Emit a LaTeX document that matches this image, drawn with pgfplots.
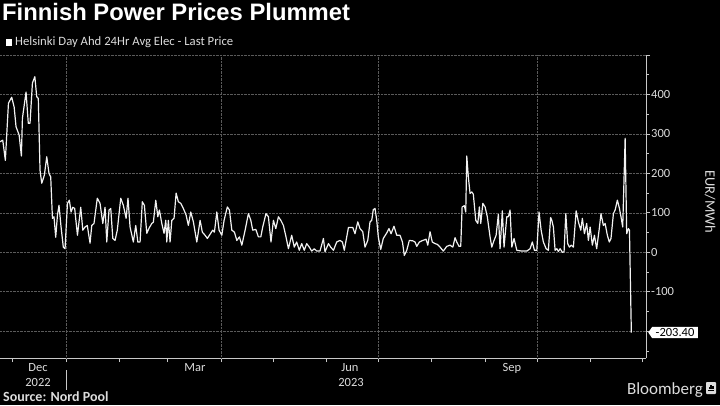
\documentclass[border=0pt]{standalone}
\usepackage{pgfplots}
\pgfplotsset{compat=1.18}
\usepackage{fontspec}
\setmainfont{Carlito}
\newfontfamily\titlefont{Liberation Sans}
\usetikzlibrary{shapes.symbols}

\definecolor{gridgray}{HTML}{5A5A5A}
\definecolor{axisgray}{HTML}{C8C8C8}
\definecolor{labelgray}{HTML}{DCDCDC}
\definecolor{linewhite}{HTML}{F2F2F2}

\begin{document}
\begin{tikzpicture}[x=1pt,y=1pt]
\fill[black] (0,0) rectangle (720,405);
\useasboundingbox (0,0) rectangle (720,405);

% title and legend
\node[anchor=base west, inner sep=0, text=white, font=\titlefont\bfseries\fontsize{23.8}{26}\selectfont] at (2,384) {Finnish Power Prices Plummet};
\fill[white] (6,359) rectangle (12,366);
\node[anchor=base west, inner sep=0, text=labelgray, font=\fontsize{12.7}{14}\selectfont] at (15,359.5) {Helsinki Day Ahd 24Hr Avg Elec - Last Price};

\begin{axis}[
  at={(0pt,350pt)}, anchor=north west,
  width=646pt, height=303pt, scale only axis,
  xmin=-38.3, xmax=336.2,
  ymin=-268, ymax=500,
  axis x line*=bottom, axis y line*=right,
  axis line style={draw=axisgray, line width=0.8pt},
  xtick={-31,0,31,59,90,120,151,181,212,243,273,304,334},
  xticklabels={},
  extra x ticks={0,90,181,273},
  extra x tick labels={},
  extra x tick style={grid=major, major tick length=0pt},
  ytick={-100,0,...,400},
  minor ytick={-250,-150,...,450},
  extra y ticks={-200,500},
  extra y tick labels={},
  extra y tick style={grid=major},
  ymajorgrids,
  grid style={densely dotted, gridgray, line width=0.6pt},
  tick align=outside,
  major tick length=4pt, minor tick length=3pt,
  tick style={axisgray, line width=0.7pt},
  /pgf/number format/assume math mode=true,
  yticklabel style={font=\fontsize{12.5}{14}\selectfont, text=labelgray, inner xsep=1pt},
  clip=false,
]
\addplot[linewhite, line width=1.2pt, line join=round] coordinates {
(-38.3,280)(-36.7,284)(-35.2,233)(-33.4,378)(-31.5,393)(-30.1,368)(-29.0,318)(-27.2,297)(-25.9,244)(-25.3,340)
(-23.2,406)(-21.9,327)(-20.9,327)(-19.5,429)(-18.1,445)(-17.0,394)(-16.1,390)(-15.1,208)(-14.1,175)(-12.6,195)
(-11.2,242)(-9.9,200)(-8.9,191)(-7.9,86)(-7.0,90)(-6.0,38)(-5.0,94)(-4.1,119)(-2.9,64)(-1.6,13)(-0.6,9)
(0.8,124)(1.9,132)(2.9,102)(3.9,114)(5.0,111)(6.6,43)(8.5,114)(9.7,56)(11.0,64)(12.3,68)(13.9,23)(14.9,68)
(16.2,73)(18.1,137)(19.7,124)
(21.3,73)(22.6,114)(23.6,26)(24.9,107)(25.9,111)(27.1,35)(28.4,30)(29.7,56)(31.7,137)(33.2,119)(34.8,86)
(35.9,137)(37.1,64)(39.0,26)(40.4,68)(41.6,26)(42.9,26)(44.2,128)(45.4,119)(46.8,48)(48.1,61)(49.7,73)
(50.6,76)(52.0,132)(53.2,90)(54.1,107)(55.5,73)(56.8,48)(57.8,81)(58.4,26)(59.3,81)(60.3,26)(61.3,81)
(62.6,86)(63.8,150)(65.1,128)(66.5,124)(68.0,111)(69.6,94)(70.9,68)(72.3,102)(73.8,77)(75.8,26)(77.7,81)
(79.0,51)(80.6,43)(81.9,35)(83.1,43)
(85.0,56)(86.0,51)(87.4,102)(88.7,56)(90.3,43)(91.6,81)(93.5,115)(94.7,107)(96.1,56)(97.6,51)(99.0,30)
(100.5,39)(101.9,18)(103.8,56)(105.7,98)(107.1,81)(108.2,56)(110.0,58)(111.5,39)(112.9,39)(114.0,64)
(115.9,98)(117.3,90)(118.8,26)(120.2,81)(121.6,60)(123.1,90)(124.5,81)(126.0,68)(127.5,39)(128.9,9)
(130.8,43)(132.3,13)(133.7,26)(135.2,5)(136.6,22)(138.1,5)(139.5,22)(141.0,13)(142.4,3)(143.9,9)(145.3,3)
(147.2,3)(149.2,35)(150.1,1)(152.1,22)(153.4,13)(155.0,5)(156.9,26)(158.8,30)(160.2,26)(161.3,5)(163.7,63)
(166.2,63)(167.5,47)(169.1,77)(170.4,60)(172.0,52)(173.3,13)(174.9,30)(176.2,77)(177.2,81)(178.1,108)
(179.1,111)(180.1,81)(181.0,39)(182.4,7)(183.9,35)(185.9,49)(187.2,60)(188.4,47)(190.1,66)(191.7,43)
(193.6,43)(195.0,26)(196.1,-8)(197.5,5)(199.0,30)(201.0,29)(202.3,26)(203.3,15)(204.8,26)(206.8,30)
(208.7,33)(209.7,18)(211.0,52)(212.3,26)(213.9,22)(215.2,20)
(216.8,13)(218.7,3)(220.7,15)(222.6,18)(224.2,13)(225.5,37)(226.5,26)(227.8,15)(228.8,15)(229.6,115)
(230.9,118)(231.7,102)(232.3,244)(233.2,191)(234.2,149)(235.2,153)(236.1,147)(237.5,81)(238.7,73)
(239.6,115)(240.4,73)(241.6,124)(242.9,115)(244.2,90)(245.8,39)(246.8,13)(248.1,30)(249.3,43)(250.6,96)
(251.6,9)(252.9,105)(253.9,13)(255.5,90)(256.4,90)(257.4,107)(258.4,13)(259.7,35)(261.3,5)(264.2,3)
(267.1,3)(269.0,9)(270.3,26)(271.5,5)(272.9,5)(274.2,102)(275.4,56)(276.7,26)(278.3,9)(279.6,5)
(280.9,88)(281.6,81)(282.5,64)(283.5,5)(284.5,9)(285.4,2)(286.4,9)(287.7,0)(288.7,1)(289.7,98)(290.8,22)
(291.8,13)(292.8,18)(294.1,13)(295.7,105)(297.0,77)(298.4,56)(299.3,86)(300.5,47)(301.8,73)(302.8,30)
(303.8,64)(305.1,18)(306.3,43)(307.6,9)(309.0,56)(310.1,98)(311.5,68)(312.5,73)(313.8,43)(314.9,26)
(315.9,35)(317.3,98)(318.3,107)(319.6,132)(320.8,111)(321.7,90)(322.7,64)(324.1,289)(325.0,47)(326.0,60)
(326.6,56)(327.7,-203.4)
};
% last value tag
\node[signal, signal to=west, signal pointer angle=110, fill=white, text=black, inner xsep=3.5pt, inner ysep=1.5pt,
      font=\fontsize{12.5}{14}\selectfont, anchor=west] at (axis cs:336.2,-203.4) [xshift=2pt] {-203.40};
\end{axis}

% x axis labels
\begin{scope}[every node/.style={text=labelgray, font=\fontsize{12.5}{14}\selectfont, inner sep=0}]
\node[anchor=base] at (38,34) {Dec};
\node[anchor=base] at (38,19) {2022};
\node[anchor=base] at (195,34) {Mar};
\node[anchor=base] at (350,34) {Jun};
\node[anchor=base] at (351,19) {2023};
\node[anchor=base] at (512,34) {Sep};
\end{scope}
\draw[axisgray, line width=0.6pt] (66,35) -- (66,15);

% y axis title
\node[rotate=-90, text=labelgray, font=\fontsize{14.5}{16}\selectfont, inner sep=0] at (710,203) {EUR/MWh};

% footer
\node[anchor=base west, inner sep=0, text=labelgray, font=\bfseries\fontsize{14}{16}\selectfont] at (3,3.5) {Source: Nord Pool};
\node[anchor=base east, inner sep=0, text=labelgray, font=\fontsize{17}{19}\selectfont] at (703,11) {Bloomberg};
\fill[labelgray, rounded corners=0.8pt] (706,11) rectangle (716,23);
\fill[black] (708,14) rectangle (714,15.2);
\fill[black] (708.5,15.8) rectangle (709.7,18);
\fill[black] (710.4,15.8) rectangle (711.6,20);
\fill[black] (712.3,15.8) rectangle (713.5,19);
\end{tikzpicture}
\end{document}
